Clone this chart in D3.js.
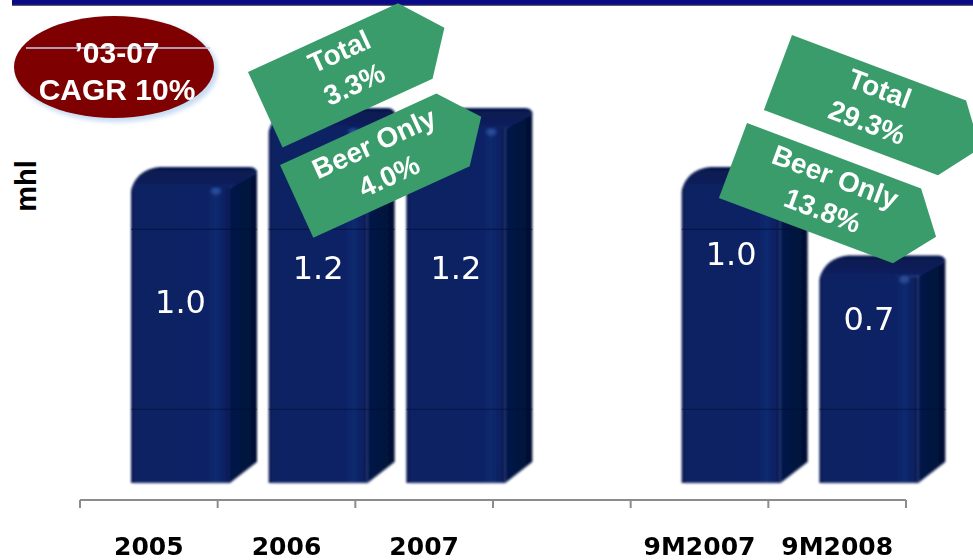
<!DOCTYPE html>
<html>
<head>
<meta charset="utf-8">
<script src="https://cdn.jsdelivr.net/npm/d3@7/dist/d3.min.js"></script>
<style>
  html, body { margin: 0; padding: 0; background: #ffffff; }
  svg { display: block; }
</style>
</head>
<body>
<div id="chart"></div>
<script>
// Beer volume, million hectolitres
const categories = ["2005", "2006", "2007", "", "9M2007", "9M2008"];
const volumes = [1.0, 1.2, 1.2, null, 1.0, 0.7];
const valueLabels = ["1.0", "1.2", "1.2", "", "1.0", "0.7"];
const gridValues = [0.25, 0.86];
const yAxisTitle = "mhl";
const cagrBadge = ["’03-07", "CAGR 10%"];
const growthCallouts = [
  ["Total", "3.3%"],
  ["Beer Only", "4.0%"],
  ["Total", "29.3%"],
  ["Beer Only", "13.8%"]
];

const W = 973, H = 560;
const svg = d3.select("#chart").append("svg")
  .attr("width", W).attr("height", H)
  .attr("viewBox", `0 0 ${W} ${H}`);

const defs = svg.append("defs");

// soft edges for the extruded columns
defs.append("filter").attr("id", "soft")
  .attr("x", "-5%").attr("y", "-5%").attr("width", "110%").attr("height", "110%")
  .append("feGaussianBlur").attr("stdDeviation", 0.8);
defs.append("filter").attr("id", "glow")
  .attr("x", "-20%").attr("y", "-20%").attr("width", "140%").attr("height", "140%")
  .append("feGaussianBlur").attr("stdDeviation", 2);
defs.append("filter").attr("id", "spot")
  .attr("x", "-100%").attr("y", "-100%").attr("width", "300%").attr("height", "300%")
  .append("feGaussianBlur").attr("stdDeviation", 1.6);

const frontGrad = defs.append("linearGradient").attr("id", "frontGrad")
  .attr("x1", "0").attr("x2", "1").attr("y1", "0").attr("y2", "0");
[["0%", "#081c55"], ["6%", "#0b2262"], ["78%", "#0c2466"], ["86%", "#0f2a70"],
 ["93%", "#0b2263"], ["100%", "#081b54"]]
  .forEach(([o, c]) => frontGrad.append("stop").attr("offset", o).attr("stop-color", c));

const sideGrad = defs.append("linearGradient").attr("id", "sideGrad")
  .attr("x1", "0").attr("x2", "1").attr("y1", "0").attr("y2", "0");
[["0%", "#061a4c"], ["100%", "#020f33"]]
  .forEach(([o, c]) => sideGrad.append("stop").attr("offset", o).attr("stop-color", c));

const topGrad = defs.append("linearGradient").attr("id", "topGrad")
  .attr("x1", "0").attr("x2", "0").attr("y1", "0").attr("y2", "1");
[["0%", "#06184c"], ["100%", "#0b2263"]]
  .forEach(([o, c]) => topGrad.append("stop").attr("offset", o).attr("stop-color", c));

// header rule
svg.append("rect").attr("x", 12).attr("y", 0).attr("width", W - 12).attr("height", 5)
  .attr("fill", "#0a0a88");
svg.append("line").attr("x1", 12).attr("x2", W).attr("y1", 5).attr("y2", 5)
  .attr("stroke", "#23235e").attr("stroke-width", 1.5);

// scales
const x = d3.scaleBand().domain(categories).range([80, 906]).padding(0);
const y = d3.scaleLinear().domain([0, 1]).range([483, 188]);

const FRONT_OFF = 51, FRONT_W = 99, DX = 27, DY = 21;

const bars = categories.map((c, i) => ({ c, v: volumes[i], label: valueLabels[i], i }))
  .filter(d => d.v !== null);

function geom(d) {
  const x0 = x(d.c) + FRONT_OFF, x1 = x0 + FRONT_W;
  const yt = y(d.v), yb = y(0);
  return { x0, x1, yt, yb };
}
function frontPath(g) {
  return `M${g.x0},${g.yb} L${g.x0},${g.yt + 4} Q${g.x0},${g.yt} ${g.x0 + 4},${g.yt} L${g.x1},${g.yt} L${g.x1},${g.yb} Z`;
}
function sidePath(g) {
  return `M${g.x1},${g.yt} L${g.x1 + DX},${g.yt - DY + 3} Q${g.x1 + DX},${g.yt - DY + 6} ${g.x1 + DX},${g.yt - DY + 8} L${g.x1 + DX},${g.yb - DY} L${g.x1},${g.yb} Z`;
}
function topPath(g) {
  return `M${g.x0},${g.yt + 2} Q${g.x0 + 6},${g.yt - DY + 2} ${g.x0 + DX + 2},${g.yt - DY} L${g.x1 + DX - 7},${g.yt - DY} Q${g.x1 + DX},${g.yt - DY} ${g.x1 + DX},${g.yt - DY + 7} L${g.x1},${g.yt} Z`;
}

// clip region of the column bodies for the grid lines
const clip = defs.append("clipPath").attr("id", "barClip");
bars.forEach(d => {
  const g = geom(d);
  clip.append("path").attr("d", frontPath(g));
  clip.append("path").attr("d", sidePath(g));
});

const barLayer = svg.append("g").attr("filter", "url(#soft)");
const barG = barLayer.selectAll("g.bar").data(bars).join("g").attr("class", "bar");
barG.append("path").attr("d", d => sidePath(geom(d))).attr("fill", "url(#sideGrad)");
barG.append("path").attr("d", d => topPath(geom(d))).attr("fill", "url(#topGrad)");
barG.append("path").attr("d", d => frontPath(geom(d))).attr("fill", "url(#frontGrad)");
// light rim along the bottom edge
barG.append("path")
  .attr("d", d => { const g = geom(d); return `M${g.x0 + 3},${g.yb} L${g.x1},${g.yb} L${g.x1 + DX},${g.yb - DY}`; })
  .attr("fill", "none").attr("stroke", "#6f7fa8").attr("stroke-width", 1).attr("opacity", 0.7);
// highlight at the top right of the front face
barG.append("ellipse")
  .attr("cx", d => geom(d).x1 - 14).attr("cy", d => geom(d).yt + 3)
  .attr("rx", 5).attr("ry", 3.5).attr("fill", "#3558a8").attr("opacity", 0.8)
  .attr("filter", "url(#spot)");

// grid lines showing through the columns
svg.append("g").attr("clip-path", "url(#barClip)")
  .selectAll("line").data(gridValues).join("line")
  .attr("x1", 80).attr("x2", 973)
  .attr("y1", d => y(d)).attr("y2", d => y(d))
  .attr("stroke", "#020c30").attr("stroke-width", 1.2).attr("opacity", 0.55);

// value labels
const labelFrac = i => (i < 3 ? 0.575 : 0.74);
svg.append("g").selectAll("text").data(bars).join("text")
  .attr("x", d => geom(d).x0 + FRONT_W / 2)
  .attr("y", d => y(d.v * labelFrac(d.i)))
  .attr("text-anchor", "middle")
  .attr("font-family", "'DejaVu Sans', Verdana, sans-serif")
  .attr("font-size", 32)
  .attr("fill", "#ffffff")
  .text(d => d.label);

// category axis
const axisY = 500;
const bounds = categories.map(c => x(c)).concat([x.range()[1]]);
svg.append("line").attr("x1", bounds[0]).attr("x2", bounds[bounds.length - 1])
  .attr("y1", axisY).attr("y2", axisY).attr("stroke", "#8c8c8c").attr("stroke-width", 2);
svg.append("g").selectAll("line").data(bounds).join("line")
  .attr("x1", d => d).attr("x2", d => d).attr("y1", axisY).attr("y2", axisY + 8)
  .attr("stroke", "#8c8c8c").attr("stroke-width", 2);

const xAxis = d3.axisBottom(x).tickSize(0).tickPadding(0);
const axG = svg.append("g").attr("transform", `translate(0,${axisY})`).call(xAxis);
axG.select(".domain").remove();
axG.selectAll("text")
  .attr("y", 55).attr("dy", 0)
  .attr("font-family", "'DejaVu Sans', Verdana, sans-serif")
  .attr("font-weight", "bold")
  .attr("font-size", 25)
  .attr("fill", "#000000");

// y-axis title
svg.append("text")
  .attr("transform", "translate(36,186) rotate(-90)")
  .attr("text-anchor", "middle")
  .attr("font-family", "'Liberation Sans', Arial, sans-serif")
  .attr("font-weight", "bold")
  .attr("font-size", 29)
  .attr("fill", "#000000")
  .text(yAxisTitle);

// CAGR badge
const badge = svg.append("g");
badge.append("ellipse").attr("cx", 117).attr("cy", 70).attr("rx", 101).attr("ry", 52)
  .attr("fill", "#c7dbf3").attr("filter", "url(#glow)");
badge.append("ellipse").attr("cx", 114).attr("cy", 67).attr("rx", 100).attr("ry", 51)
  .attr("fill", "#7e0000");
badge.append("line").attr("x1", 26).attr("x2", 210).attr("y1", 48).attr("y2", 48)
  .attr("stroke", "#c4cfe8").attr("stroke-width", 1.5);
badge.selectAll("text").data(cagrBadge).join("text")
  .attr("x", 117).attr("y", (d, i) => 63 + i * 37)
  .attr("text-anchor", "middle")
  .attr("font-family", "'Liberation Sans', Arial, sans-serif")
  .attr("font-weight", "bold")
  .attr("font-size", 30)
  .attr("fill", "#ffffff")
  .text(d => d);

// growth call-outs (arrow-shaped tags)
const calloutLayout = [
  { x: 248, y: 72, a: -24.6, w: 165, h: 83, tip: 32 },
  { x: 280, y: 165, a: -24.6, w: 172, h: 80, tip: 31 },
  { x: 792, y: 35, a: 20.6, w: 186, h: 80, tip: 30 },
  { x: 747, y: 123, a: 20.6, w: 186, h: 80, tip: 31 }
];
const tags = svg.append("g").selectAll("g").data(growthCallouts).join("g")
  .attr("transform", (d, i) => {
    const L = calloutLayout[i];
    return `translate(${L.x},${L.y}) rotate(${L.a})`;
  });
tags.append("path")
  .attr("d", (d, i) => {
    const L = calloutLayout[i];
    return `M0,0 L${L.w},0 L${L.w + L.tip},${L.h / 2} L${L.w},${L.h} L0,${L.h} Z`;
  })
  .attr("fill", "#399c6a");
tags.each(function (lines, i) {
  const L = calloutLayout[i];
  d3.select(this).selectAll("text").data(lines).join("text")
    .attr("x", (L.w + L.tip) / 2 - 7)
    .attr("y", (d, j) => 29 + j * 36)
    .attr("text-anchor", "middle")
    .attr("font-family", "'Liberation Sans', Arial, sans-serif")
    .attr("font-weight", "bold")
    .attr("font-size", 28)
    .attr("fill", "#ffffff")
    .text(d => d);
});
</script>
</body>
</html>
